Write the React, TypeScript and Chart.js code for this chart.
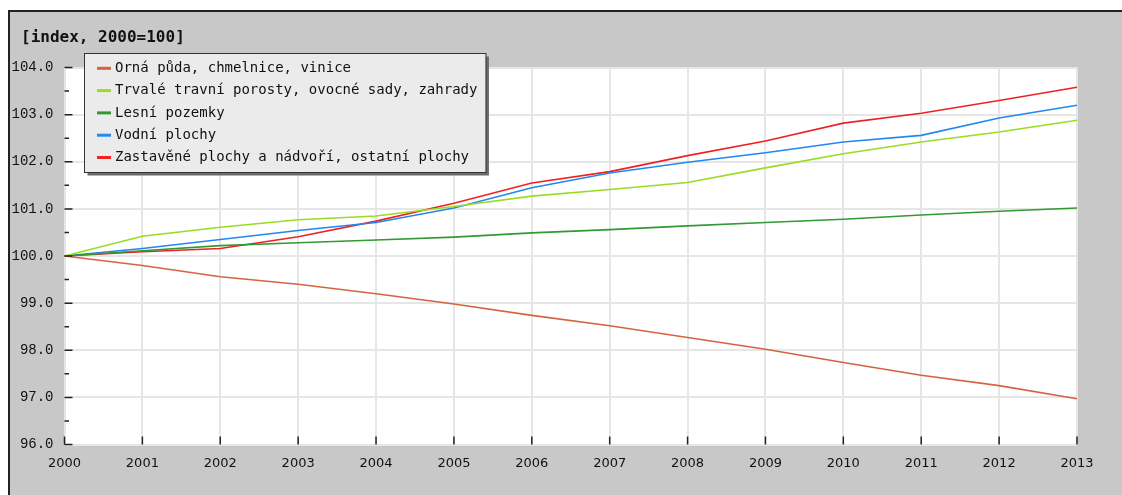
import React, { useEffect, useRef } from 'react';
import { Chart, registerables } from 'chart.js';

Chart.register(...registerables);

const years = ['2000', '2001', '2002', '2003', '2004', '2005', '2006', '2007', '2008', '2009', '2010', '2011', '2012', '2013'];
const ornaPuda = [100, 99.8, 99.56, 99.4, 99.2, 98.98, 98.74, 98.52, 98.27, 98.02, 97.74, 97.47, 97.25, 96.97];
const trvaleTravniPorosty = [100, 100.42, 100.61, 100.77, 100.85, 101.05, 101.27, 101.41, 101.56, 101.87, 102.17, 102.42, 102.63, 102.88];
const lesniPozemky = [100, 100.11, 100.22, 100.28, 100.34, 100.4, 100.49, 100.56, 100.64, 100.71, 100.78, 100.87, 100.95, 101.02];
const vodniPlochy = [100, 100.16, 100.35, 100.54, 100.71, 101.02, 101.45, 101.76, 101.99, 102.19, 102.42, 102.56, 102.93, 103.2];
const zastavenePlochy = [100, 100.09, 100.16, 100.41, 100.74, 101.12, 101.55, 101.79, 102.13, 102.44, 102.82, 103.03, 103.3, 103.58];
const seriesLabels = [
  'Orná půda, chmelnice, vinice',
  'Trvalé travní porosty, ovocné sady, zahrady',
  'Lesní pozemky',
  'Vodní plochy',
  'Zastavěné plochy a nádvoří, ostatní plochy',
];
const seriesColors = ['#d4643f', '#99dd22', '#339933', '#2288ee', '#ee2222'];
const yMin = 96;
const yMax = 104;
const yMinorStep = 0.5;
const unitTitle = '[index, 2000=100]';

const TICK_COLOR = '#222222';

const decorPlugin = {
  id: 'decor',
  beforeDraw(chart: any) {
    const { ctx, chartArea } = chart;
    ctx.save();
    ctx.fillStyle = '#ffffff';
    ctx.fillRect(chartArea.left, chartArea.top, chartArea.right - chartArea.left, chartArea.bottom - chartArea.top);
    ctx.restore();
  },
  afterDraw(chart: any) {
    const { ctx, chartArea } = chart;
    const xs = chart.scales.x;
    const ys = chart.scales.y;
    ctx.save();
    // inward tick marks
    ctx.strokeStyle = TICK_COLOR;
    ctx.lineWidth = 1.5;
    ctx.beginPath();
    for (let v = yMin; v <= yMax + 1e-9; v += yMinorStep) {
      const y = ys.getPixelForValue(v);
      const major = Math.abs(v - Math.round(v)) < 1e-9;
      ctx.moveTo(chartArea.left, y);
      ctx.lineTo(chartArea.left + (major ? 8 : 4.5), y);
    }
    for (let i = 0; i < years.length; i++) {
      const x = xs.getPixelForValue(i);
      ctx.moveTo(x, chartArea.bottom);
      ctx.lineTo(x, chartArea.bottom - 8);
    }
    ctx.stroke();

    // title
    ctx.fillStyle = '#111111';
    ctx.font = 'bold 16px "DejaVu Sans Mono"';
    ctx.textBaseline = 'middle';
    ctx.textAlign = 'left';
    ctx.fillText(unitTitle, 21, 38);

    // legend
    ctx.font = '14px "DejaVu Sans Mono"';
    const datasets = chart.data.datasets;
    let maxW = 0;
    datasets.forEach((d: any) => {
      maxW = Math.max(maxW, ctx.measureText(d.label).width);
    });
    const bx = 84.5;
    const by = 53.5;
    const bw = 31 + maxW + 8;
    const rowH = 22.3;
    const bh = 119;
    ctx.fillStyle = '#6a6a6a';
    ctx.fillRect(bx + 3, by + 3, bw, bh);
    ctx.fillStyle = '#ebebeb';
    ctx.fillRect(bx, by, bw, bh);
    ctx.strokeStyle = '#333333';
    ctx.lineWidth = 1;
    ctx.strokeRect(bx, by, bw, bh);
    datasets.forEach((d: any, i: number) => {
      const cy = 68.3 + i * rowH;
      ctx.strokeStyle = d.borderColor;
      ctx.lineWidth = 3;
      ctx.beginPath();
      ctx.moveTo(97, cy);
      ctx.lineTo(111, cy);
      ctx.stroke();
      ctx.fillStyle = '#111111';
      ctx.fillText(d.label, 115, cy);
    });
    ctx.restore();
  },
};

export default function App() {
  const canvasRef = useRef<HTMLCanvasElement | null>(null);

  useEffect(() => {
    const prevMargin = document.body.style.margin;
    document.body.style.margin = '0';
    const canvas = canvasRef.current;
    if (!canvas) return;
    const seriesValues = [ornaPuda, trvaleTravniPorosty, lesniPozemky, vodniPlochy, zastavenePlochy];
    const chart = new Chart(canvas, {
      type: 'line',
      data: {
        labels: years,
        datasets: seriesValues.map((vals, i) => ({
          label: seriesLabels[i],
          data: vals,
          borderColor: seriesColors[i],
          backgroundColor: seriesColors[i],
          borderWidth: 1.6,
          pointRadius: 0,
          tension: 0,
          fill: false,
        })),
      },
      options: {
        animation: false,
        responsive: false,
        devicePixelRatio: 1,
        layout: { padding: { top: 67.5, right: 45, left: 0, bottom: 0 } },
        plugins: {
          legend: { display: false },
          title: { display: false },
          tooltip: { enabled: false },
        },
        scales: {
          x: {
            type: 'category',
            offset: false,
            afterFit: (s: any) => {
              s.height = 50.5;
            },
            grid: { color: '#e6e6e6', lineWidth: 2, drawTicks: false },
            border: { display: false },
            ticks: {
              color: '#111111',
              font: { family: '"DejaVu Sans"', size: 13 },
              padding: 11,
              maxRotation: 0,
              autoSkip: false,
            },
          },
          y: {
            min: yMin,
            max: yMax,
            afterFit: (s: any) => {
              s.width = 64.5;
            },
            grid: { color: '#e6e6e6', lineWidth: 2, drawTicks: false },
            border: { display: false },
            ticks: {
              stepSize: 1,
              color: '#111111',
              font: { family: '"Liberation Mono"', size: 14 },
              padding: 11,
              callback: (v: any) => Number(v).toFixed(1),
            },
          },
        },
      },
      plugins: [decorPlugin],
    });
    return () => {
      chart.destroy();
      document.body.style.margin = prevMargin;
    };
  }, []);

  return (
    <div style={{ position: 'absolute', left: 0, top: 0, width: 1122, height: 495, background: '#ffffff', overflow: 'hidden' }}>
      <div
        style={{
          position: 'absolute',
          left: 8,
          top: 10,
          right: 0,
          bottom: 0,
          background: '#c8c8c8',
          borderLeft: '2px solid #222222',
          borderTop: '2px solid #222222',
        }}
      />
      <canvas ref={canvasRef} width={1122} height={495} style={{ position: 'absolute', left: 0, top: 0 }} />
    </div>
  );
}
